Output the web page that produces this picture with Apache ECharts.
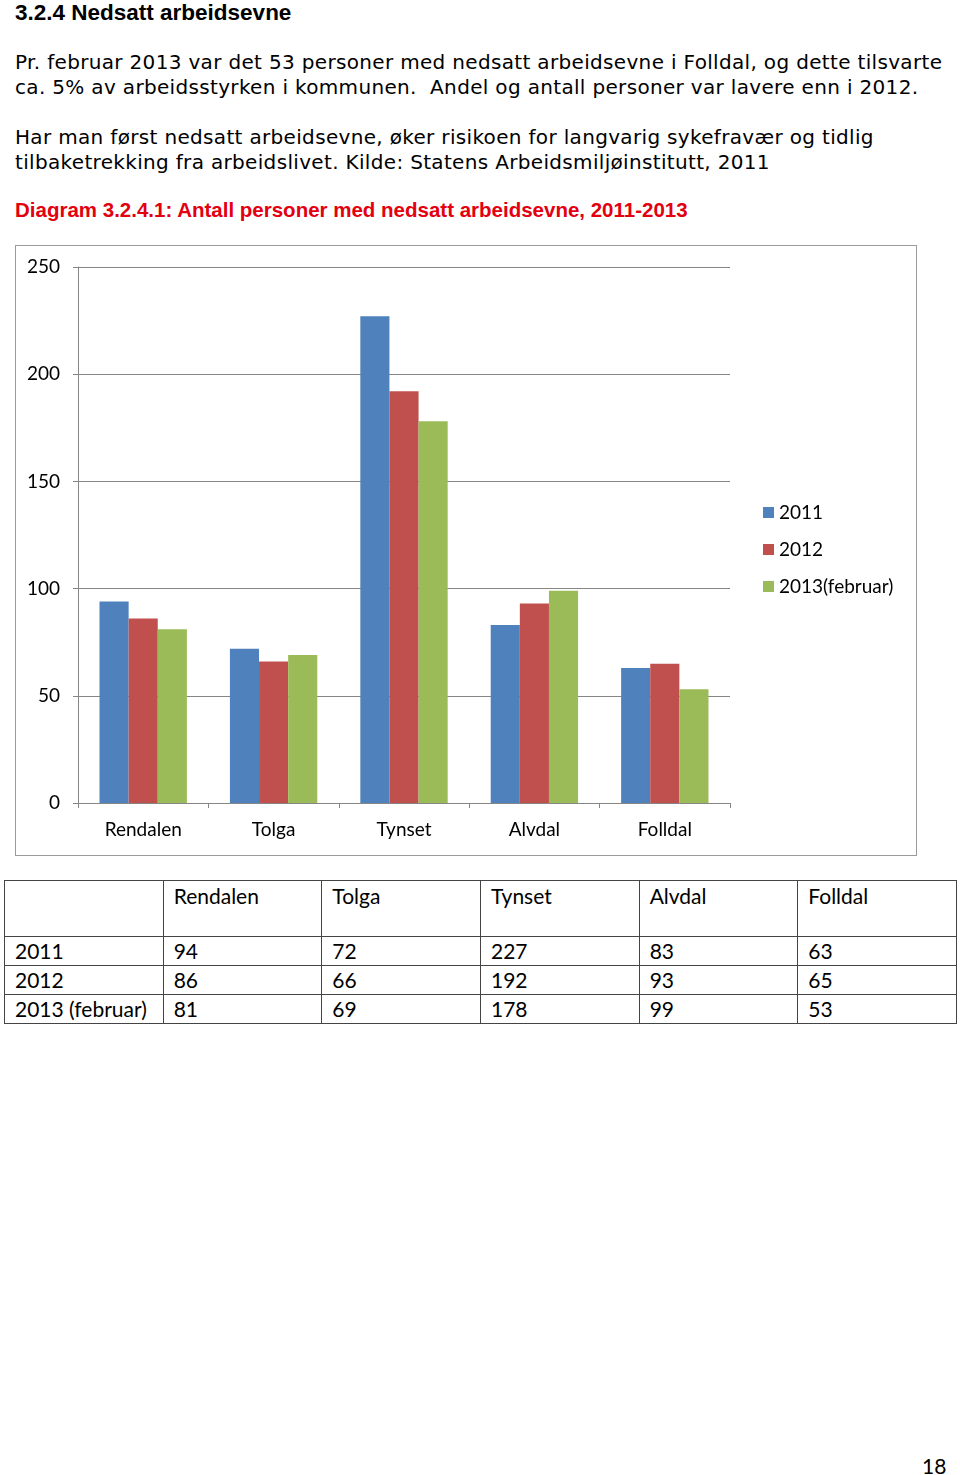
<!DOCTYPE html>
<html>
<head>
<meta charset="utf-8">
<script src="https://cdn.jsdelivr.net/npm/echarts@6/dist/echarts.min.js"></script>
<style>
  html, body { margin:0; padding:0; background:#fff; }
  body { width:960px; height:1475px; position:relative; overflow:hidden; }
  .abs { position:absolute; white-space:nowrap; }
  .h { left:15px; top:0px; font-family:"Liberation Sans", Arial, sans-serif; font-weight:bold; font-size:22.5px; line-height:26px; color:#000; }
  .p { left:15px; font-family:"DejaVu Sans", Verdana, sans-serif; font-size:20px; letter-spacing:0.33px; line-height:25px; color:#000; }
  .cap { left:15px; top:197px; font-family:"Liberation Sans", Arial, sans-serif; font-weight:bold; font-size:20.5px; line-height:26px; color:#e3000f; }
  #chart { position:absolute; left:15px; top:245px; width:902px; height:611px; box-sizing:border-box; border:1px solid #9a9a9a; }
  table { position:absolute; left:4px; top:880px; width:953px; table-layout:fixed; border-collapse:collapse; font-family:Lato, "Open Sans", sans-serif; font-size:21px; color:#000; }
  td { border:1.5px solid #444; padding:0 0 0 10px; vertical-align:top; height:27px; line-height:28px; white-space:nowrap; }
  tr.hd td { height:54px; padding-top:1px; }
  .pg { left:922px; top:1453px; font-family:Lato, sans-serif; font-size:21px; }
</style>
</head>
<body>
<div class="abs h">3.2.4 Nedsatt arbeidsevne</div>
<div class="abs p" style="top:50px">Pr. februar 2013 var det 53 personer med nedsatt arbeidsevne i Folldal, og dette tilsvarte</div>
<div class="abs p" style="top:75px">ca. 5% av arbeidsstyrken i kommunen.&nbsp; Andel og antall personer var lavere enn i 2012.</div>
<div class="abs p" style="top:125px">Har man først nedsatt arbeidsevne, øker risikoen for langvarig sykefravær og tidlig</div>
<div class="abs p" style="top:150px">tilbaketrekking fra arbeidslivet. Kilde: Statens Arbeidsmiljøinstitutt, 2011</div>
<div class="abs cap">Diagram 3.2.4.1: Antall personer med nedsatt arbeidsevne, 2011-2013</div>
<div id="chart"></div>
<table id="tbl"></table>
<div class="abs pg">18</div>
<script>
const categories = ['Rendalen', 'Tolga', 'Tynset', 'Alvdal', 'Folldal'];
const seriesNames = ['2011', '2012', '2013(februar)'];
const tableRowLabels = ['2011', '2012', '2013 (februar)'];
const values2011 = [94, 72, 227, 83, 63];
const values2012 = [86, 66, 192, 93, 65];
const values2013 = [81, 69, 178, 99, 53];
const yTicks = [0, 50, 100, 150, 200, 250];
const colors = ['#4f81bd', '#c0504d', '#9bbb59'];

const allValues = [values2011, values2012, values2013];

// table
const tbl = document.getElementById('tbl');
let html = '<tr class="hd"><td></td>' + categories.map(c => '<td>' + c + '</td>').join('') + '</tr>';
allValues.forEach((vals, i) => {
  html += '<tr><td>' + tableRowLabels[i] + '</td>' + vals.map(v => '<td>' + v + '</td>').join('') + '</tr>';
});
tbl.innerHTML = html;

const chart = echarts.init(document.getElementById('chart'), null, {renderer: 'canvas'});
const font = 'Lato, "Open Sans", sans-serif';
chart.setOption({
  animation: false,
  color: colors,
  textStyle: { fontFamily: font },
  grid: { left: 62, top: 21, width: 652, height: 536, containLabel: false },
  legend: {
    orient: 'vertical',
    left: 747, top: 257, padding: 0,
    itemWidth: 11, itemHeight: 11, itemGap: 18,
    icon: 'rect',
    textStyle: { fontFamily: font, fontSize: 19, color: '#000' },
    data: seriesNames
  },
  xAxis: {
    type: 'category',
    data: categories,
    axisLine: { lineStyle: { color: '#868686', width: 1 } },
    axisTick: { show: true, length: 5, lineStyle: { color: '#868686' } },
    axisLabel: { color: '#000', fontSize: 19, fontFamily: font, margin: 17 },
    splitLine: { show: false }
  },
  yAxis: {
    type: 'value',
    min: yTicks[0], max: yTicks[yTicks.length - 1], interval: 50,
    axisLine: { show: true, lineStyle: { color: '#868686', width: 1 } },
    axisTick: { show: true, length: 5, lineStyle: { color: '#868686' } },
    axisLabel: { color: '#000', fontSize: 19, fontFamily: font, margin: 18 },
    splitLine: { show: true, lineStyle: { color: '#868686', width: 1 } }
  },
  series: seriesNames.map((n, i) => ({
    name: n,
    type: 'bar',
    data: allValues[i],
    barGap: '0%',
    barCategoryGap: '33%'
  }))
});
</script>
</body>
</html>
